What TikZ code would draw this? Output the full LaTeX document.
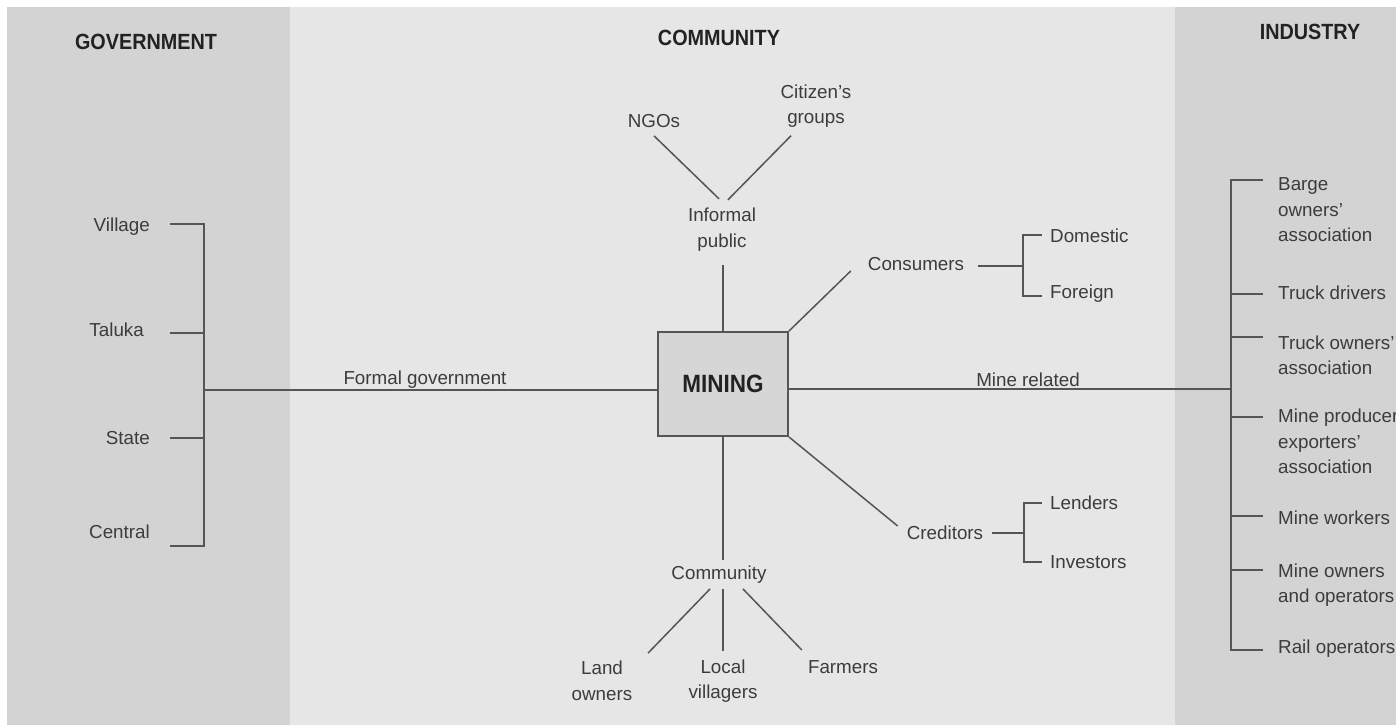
\documentclass[tikz,border=0pt]{standalone}
\usepackage{fontspec}
\setmainfont{Liberation Sans}
\newfontfamily\titlefont{Liberation Sans}[FakeStretch=0.9]
\usetikzlibrary{calc}
\definecolor{panel}{HTML}{D3D3D3}
\definecolor{mid}{HTML}{E6E6E6}
\definecolor{boxfill}{HTML}{D6D6D6}
\definecolor{txt}{HTML}{3C3C3C}
\definecolor{ttltxt}{HTML}{222222}
\definecolor{ln}{HTML}{555555}
\begin{document}
\begin{tikzpicture}[x=1pt,y=-1pt,
  lbl/.style={text=txt, font=\fontsize{18.8}{25.5}\selectfont, inner sep=0pt, align=center},
  lbll/.style={lbl, align=left, anchor=west},
  ttl/.style={text=ttltxt, font=\titlefont\bfseries\fontsize{22}{26}\selectfont, inner sep=0pt},
  conn/.style={draw=ln, line width=1.5pt},
  minebox/.style={draw=ln, line width=2pt, fill=boxfill, minimum width=130pt, minimum height=104pt,
     text=ttltxt, font=\titlefont\bfseries\fontsize{25}{26}\selectfont},
]
\useasboundingbox (0,0) rectangle (1396,725);
\fill[white] (0,0) rectangle (1396,725);
\fill[panel] (7,7) rectangle (290,725);
\fill[mid] (290,7) rectangle (1175,725);
\fill[panel] (1175,7) rectangle (1396,725);

% titles
\node[ttl] (tgov) at (146,42) {GOVERNMENT};
\node[ttl] (tcom) at (719,38) {COMMUNITY};
\node[ttl] (tind) at (1310,32) {INDUSTRY};

% central box
\node[minebox] (mining) at (723,384) {MINING};

% government side
\node[lbl, anchor=east] (village) at (150,227) {Village};
\node[lbl, anchor=east] (taluka) at (144,330) {Taluka};
\node[lbl, anchor=east] (state) at (150,438) {State};
\node[lbl, anchor=east] (central) at (150,532) {Central};
\coordinate (gv1) at (170,224); \coordinate (gb1) at (204,224);
\coordinate (gv2) at (170,333); \coordinate (gb2) at (204,333);
\coordinate (gv3) at (170,438); \coordinate (gb3) at (204,438);
\coordinate (gv4) at (170,546); \coordinate (gb4) at (204,546);
\coordinate (gbm) at (204,390);
\draw[conn] (gv1) -- (gb1) -- (gb4) -- (gv4);
\draw[conn] (gv2) -- (gb2);
\draw[conn] (gv3) -- (gb3);
\draw[conn] (gbm) -- (mining.west |- gbm);
\node[lbl] (formal) at (425,380) {Formal government};

% industry side
\coordinate (irm) at (1231,389);
\draw[conn] (mining.east |- irm) -- (irm);
\node[lbl] (minerel) at (1028,380) {Mine related};

\node[lbll] (barge) at (1278,210) {Barge\\owners'\\association};
\node[lbll] (tdrv) at (1278,293) {Truck drivers};
\node[lbll] (town) at (1278,355.5) {Truck owners'\\association};
\node[lbll] (mprod) at (1278,441.5) {Mine producers\\exporters'\\association};
\node[lbll] (mwork) at (1278,518) {Mine workers};
\node[lbll] (mown) at (1278,585) {Mine owners\\and operators};
\node[lbll] (rail) at (1278,649) {Rail operators};
\coordinate (rb1) at (1231,180); \coordinate (rt1) at (1263,180);
\coordinate (rb2) at (1231,294); \coordinate (rt2) at (1263,294);
\coordinate (rb3) at (1231,337); \coordinate (rt3) at (1263,337);
\coordinate (rb4) at (1231,417); \coordinate (rt4) at (1263,417);
\coordinate (rb5) at (1231,516); \coordinate (rt5) at (1263,516);
\coordinate (rb6) at (1231,570); \coordinate (rt6) at (1263,570);
\coordinate (rb7) at (1231,650); \coordinate (rt7) at (1263,650);
\draw[conn] (rt1) -- (rb1) -- (rb7) -- (rt7);
\foreach \i in {2,...,6} { \draw[conn] (rb\i) -- (rt\i); }

% informal public
\node[lbl] (informal) at (722,229.5) {Informal\\public};
\node[lbl] (ngos) at (654,121) {NGOs};
\node[lbl] (citizen) at (816,106) {Citizen's\\groups};
\draw[conn] ([yshift=-8pt]ngos.south) -- ([xshift=-3pt,yshift=9pt]informal.north);
\draw[conn] ([xshift=-25pt,yshift=-8pt]citizen.south) -- ([xshift=6pt,yshift=8pt]informal.north);
\draw[conn] ([yshift=-14pt]informal.south -| mining.north) -- (mining.north);

% consumers
\node[lbl] (cons) at (916,264) {Consumers};
\node[lbll] (dom) at (1050,236) {Domestic};
\node[lbll] (for) at (1050,294) {Foreign};
\draw[conn] (mining.north east) -- ([xshift=-17pt,yshift=-7pt]cons.west);
\draw[conn] ([xshift=14pt,yshift=-2pt]cons.east) -- ([xshift=-27pt,yshift=-2pt]dom.west |- cons.east);
\draw[conn] ([xshift=-8pt,yshift=1pt]dom.west) -| ([xshift=-27pt,yshift=-2pt]for.west) -- ([xshift=-8pt,yshift=-2pt]for.west);

% creditors
\node[lbl] (cred) at (945,533) {Creditors};
\node[lbll] (lend) at (1050,503) {Lenders};
\node[lbll] (inv) at (1050,562) {Investors};
\draw[conn] (mining.south east) -- ([xshift=-9pt,yshift=7pt]cred.west);
\draw[conn] ([xshift=9pt]cred.east) -- ([xshift=-26pt]lend.west |- cred.east);
\draw[conn] ([xshift=-8pt]lend.west) -| ([xshift=-26pt]inv.west) -- ([xshift=-8pt]inv.west);

% community
\node[lbl] (comm) at (719,575) {Community};
\node[lbl] (land) at (602,681) {Land\\owners};
\node[lbl] (local) at (723,681) {Local\\villagers};
\node[lbl] (farm) at (843,667) {Farmers};
\draw[conn] (mining.south) -- ([yshift=6pt]mining.south |- comm.north);
\draw[conn] ([xshift=-9pt,yshift=-5pt]comm.south) -- ([xshift=46pt,yshift=8pt]land.north);
\draw[conn] ([xshift=4pt,yshift=-5pt]comm.south) -- ([yshift=8pt]local.north);
\draw[conn] ([xshift=24pt,yshift=-5pt]comm.south) -- ([xshift=-6pt,yshift=17pt]farm.west);
\end{tikzpicture}
\end{document}
